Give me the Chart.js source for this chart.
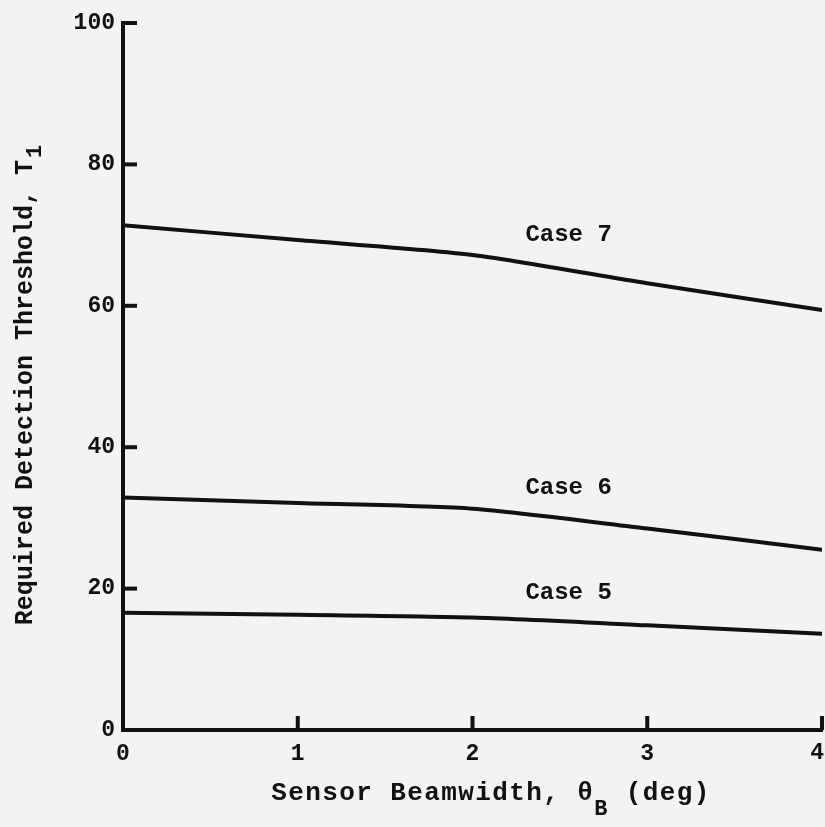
<!DOCTYPE html>
<html>
<head>
<meta charset="utf-8">
<script src="https://cdn.jsdelivr.net/npm/chart.js@4"></script>
<style>
html,body{margin:0;padding:0;background:#f3f3f1}
#wrap{width:825px;height:827px;position:relative}
</style>
</head>
<body>
<div id="wrap"><canvas id="beamChart" width="825" height="827"></canvas></div>
<script>

/* =========================
   DATA
========================= */

const beamwidth = [0,1,2,3,4]

const case5 = [16.6,16.3,15.9,14.8,13.6]
const case6 = [32.9,32.1,31.3,28.5,25.5]
const case7 = [71.4,69.3,67.2,63.2,59.4]

const xTicks = [0,1,2,3,4]
const yTicks = [0,20,40,60,80,100]

const caseNames = ["Case 5","Case 6","Case 7"]
const labelX = [2.55,2.55,2.55]
const labelY = [19.4,34.2,70.0]

const ink = "#111"
const monoFont = "'Liberation Mono', 'DejaVu Sans Mono', monospace"

function toPoints(ys){
return beamwidth.map((x,i)=>({x:x,y:ys[i]}))
}

function lineSet(ys){
return {
data:toPoints(ys),
borderColor:ink,
borderWidth:4,
pointRadius:0,
tension:0.25,
fill:false
}
}


/* =========================
   INWARD TICKS + TEXT
========================= */

const paperPlugin = {
id:"paper",
beforeDraw(chart){
const c = chart.ctx
c.save()
c.fillStyle = "#f3f3f1"
c.fillRect(0,0,chart.width,chart.height)
c.restore()
},
afterDraw(chart){
const c = chart.ctx
const xs = chart.scales.x
const ys = chart.scales.y
const area = chart.chartArea

c.save()
c.strokeStyle = ink
c.lineWidth = 4

/* y ticks point right */
yTicks.forEach(v=>{
if(v === 0) return
const py = ys.getPixelForValue(v)
c.beginPath()
c.moveTo(area.left,py)
c.lineTo(area.left+14,py)
c.stroke()
})

/* x ticks point up */
xTicks.forEach(v=>{
if(v === 0) return
const px = xs.getPixelForValue(v)
c.beginPath()
c.moveTo(px,area.bottom)
c.lineTo(px,area.bottom-14)
c.stroke()
})

c.fillStyle = ink

/* last x tick label, kept inside the page */
const lastX = xTicks[xTicks.length-1]
c.font = "bold 23px " + monoFont
c.textAlign = "right"
c.textBaseline = "top"
c.fillText(String(lastX),xs.getPixelForValue(lastX)+2,area.bottom+12)

/* case labels */
c.font = "bold 24px " + monoFont
c.textAlign = "center"
c.textBaseline = "middle"
caseNames.forEach((name,i)=>{
c.fillText(name,xs.getPixelForValue(labelX[i]),ys.getPixelForValue(labelY[i]))
})

/* x title with subscript */
c.textAlign = "left"
c.textBaseline = "alphabetic"
c.letterSpacing = "1.4px"
const xMain = "Sensor Beamwidth, \u03B8"
const xTail = " (deg)"
c.font = "bold 26px " + monoFont
const w1 = c.measureText(xMain).width
const w2 = c.measureText(xTail).width
c.font = "bold 22px " + monoFont
const wSub = c.measureText("B").width
let sx = 491 - (w1+wSub+w2)/2
c.font = "bold 26px " + monoFont
c.fillText(xMain,sx,800)
c.font = "bold 22px " + monoFont
c.fillText("B",sx+w1,815)
c.font = "bold 26px " + monoFont
c.fillText(xTail,sx+w1+wSub,800)

/* y title rotated with subscript */
c.letterSpacing = "0px"
c.translate(32,385)
c.rotate(-Math.PI/2)
const yMain = "Required Detection Threshold, T"
c.font = "bold 25px " + monoFont
const ym = c.measureText(yMain).width
c.font = "bold 22px " + monoFont
const ysub = c.measureText("1").width
let sy = -(ym+ysub+2)/2
c.font = "bold 25px " + monoFont
c.fillText(yMain,sy,0)
c.font = "bold 22px " + monoFont
c.fillText("1",sy+ym+2,9)

c.restore()
}
}


/* =========================
   CHART
========================= */

new Chart(document.getElementById("beamChart"),{

type:"line",

data:{
datasets:[lineSet(case5),lineSet(case6),lineSet(case7)]
},

options:{
responsive:false,
animation:false,
layout:{padding:{top:23,right:3,left:0,bottom:0}},
plugins:{
legend:{display:false},
tooltip:{enabled:false}
},
scales:{
x:{
type:"linear",
min:0,
max:4,
afterBuildTicks(scale){
scale.ticks = xTicks.map(v=>({value:v}))
},
afterFit(scale){
scale.height = 97
scale.paddingLeft = 0
scale.paddingRight = 0
},
grid:{display:false,drawTicks:false},
border:{display:true,color:ink,width:4},
ticks:{
color:ink,
padding:10,
maxRotation:0,
autoSkip:false,
callback:(v)=>v === xTicks[xTicks.length-1] ? "" : String(v),
font:{family:monoFont,size:23,weight:"bold"}
}
},
y:{
min:0,
max:100,
afterBuildTicks(scale){
scale.ticks = yTicks.map(v=>({value:v}))
},
afterFit(scale){
scale.width = 123
},
grid:{display:false,drawTicks:false},
border:{display:true,color:ink,width:4},
ticks:{
color:ink,
padding:8,
autoSkip:false,
font:{family:monoFont,size:23,weight:"bold"}
}
}
}
},

plugins:[paperPlugin]

})

</script>
</body>
</html>
